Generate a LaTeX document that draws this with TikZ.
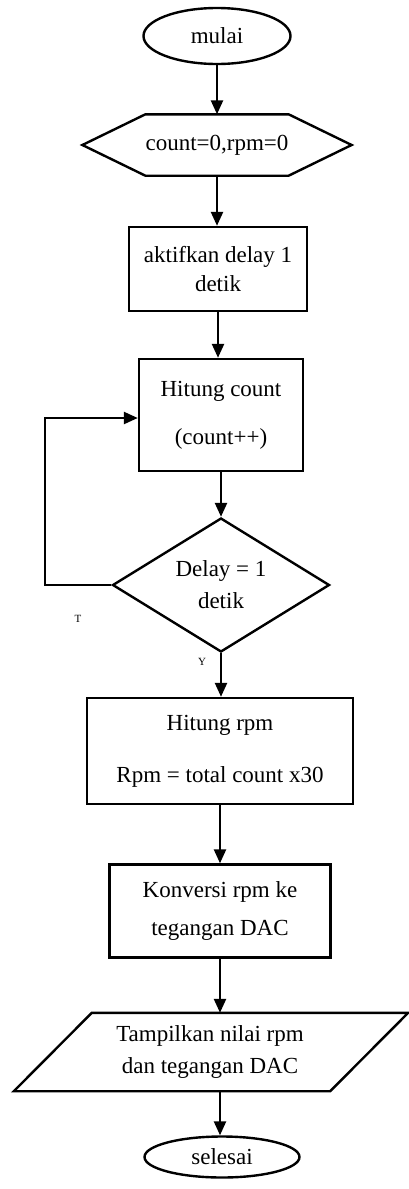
\documentclass[tikz,border=0pt]{standalone}
\usepackage{fontspec}
\setmainfont{Liberation Serif}
\usetikzlibrary{shapes.geometric,arrows.meta,calc}
\begin{document}
\begin{tikzpicture}[x=1pt,y=-1pt,
  lw/.style={line width=2.4pt},
  txt/.style={font=\fontsize{23}{29}\selectfont, align=center, inner sep=0pt},
  term/.style={txt, lw, draw, ellipse},
  proc/.style={txt, lw, draw, rectangle},
  dec/.style={txt, lw, draw, diamond, aspect=1.6},
  arr/.style={lw, -{Triangle[width=12pt,length=14pt]}},
  lbl/.style={font=\fontsize{11}{12}\selectfont, inner sep=0pt}
]
\useasboundingbox (0,0) rectangle (409,1189);

\node[term, minimum width=147pt, minimum height=56pt] (start) at (217,36) {mulai};

\node[txt, minimum width=130pt, minimum height=61pt] (init) at (217,145) {count=0,rpm=0};
\draw[lw, line join=miter] (init.north west) -- (init.north east) -- ($(init.east)+(63,0)$)
  -- (init.south east) -- (init.south west) -- ($(init.west)+(-63,0)$) -- cycle;

\node[proc, minimum width=178pt, minimum height=84pt] (delay) at (218,269) {aktifkan delay 1\\detik};

\node[proc, minimum width=164pt, minimum height=112pt] (cnt) at (221,415) {Hitung count\\[19pt](count++)};

\node[dec, minimum width=217pt, minimum height=134pt] (dly) at (221,585) {Delay = 1\\[3pt]detik};

\node[proc, minimum width=266pt, minimum height=106pt] (rpm) at (220,751) {Hitung rpm\\[23pt]Rpm = total count x30};

\node[proc, minimum width=221pt, minimum height=93pt] (conv) at (220,911) {Konversi rpm ke\\[9pt]tegangan DAC};

\node[txt, minimum width=316pt, minimum height=78pt] (out) at (210,1052) {Tampilkan nilai rpm\\[3pt]dan tegangan DAC};
\draw[lw, line join=miter] ($(out.north west)+(40,0)$) -- ($(out.north east)+(40,0)$)
  -- ($(out.south east)+(-38,0)$) -- ($(out.south west)+(-38,0)$) -- cycle;

\node[term, minimum width=155pt, minimum height=41pt] (stop) at (222,1157) {selesai};

\draw[arr] (start.south) -- (start.south |- init.north);
\draw[arr] (init.south) -- (init.south |- delay.north);
\draw[arr] (delay.south) -- (delay.south |- cnt.north);
\draw[arr] (cnt.south) -- (dly.north);
\draw[arr] (dly.south) -- (dly.south |- rpm.north);
\draw[arr] (rpm.south) -- (rpm.south |- conv.north);
\draw[arr] (conv.south) -- (conv.south |- out.north);
\draw[arr] (conv.south |- out.south) -- (conv.south |- stop.north);

\coordinate (lp) at (45,585);
\draw[arr] (dly.west) -- (lp) |- ($(cnt.west)+(0,3)$);

\node[lbl] (t) at (78,619) {T};
\node[lbl] (y) at (202,662) {Y};
\end{tikzpicture}
\end{document}
